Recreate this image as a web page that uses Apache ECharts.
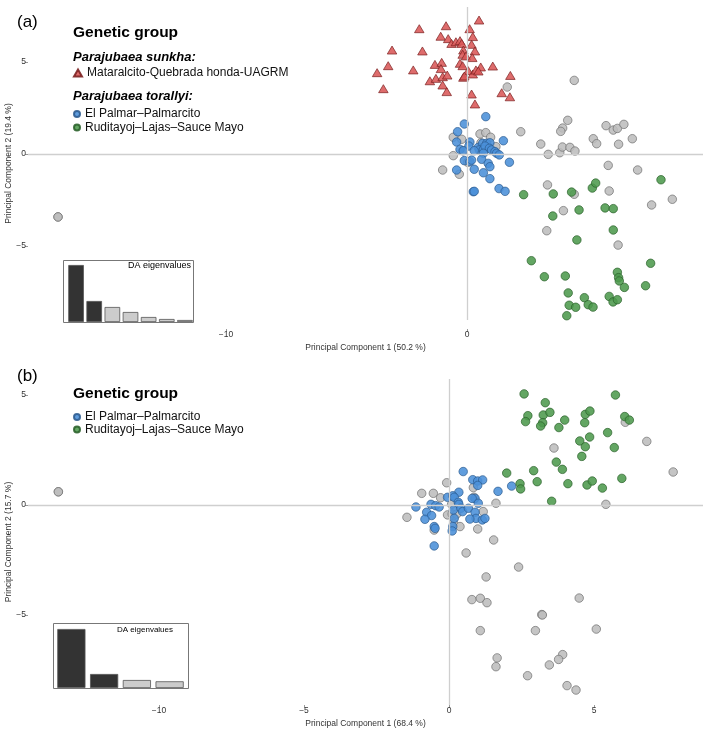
<!DOCTYPE html>
<html>
<head>
<meta charset="utf-8">
<script src="https://cdn.jsdelivr.net/npm/echarts@6/dist/echarts.min.js"></script>
<style>
  html, body { margin: 0; padding: 0; background: #fff; }
  #chart { width: 709px; height: 737px; }
</style>
</head>
<body>
<div id="chart"></div>
<script>
// panel (a): DAPC with both species
var sunkhaA = [[0.50,7.28],[-1.98,6.81],[-0.87,6.97],[0.11,6.81],[-1.09,6.40],[-0.78,6.27],[0.24,6.38],[-0.64,6.01],[-0.46,6.10],[-0.29,6.16],[-0.22,6.01],[0.19,5.96],[-3.11,5.65],[-1.85,5.60],[-0.15,5.65],[0.33,5.60],[-0.18,5.42],[-0.04,5.33],[0.22,5.24],[-3.27,4.80],[-3.73,4.42],[-2.23,4.57],[-1.33,4.87],[-1.05,4.98],[-1.08,4.64],[-0.29,4.93],[-0.18,4.80],[0.57,4.73],[1.07,4.78],[-1.54,3.98],[-1.29,4.11],[-1.01,4.20],[-0.82,4.29],[0.05,4.53],[0.24,4.35],[0.37,4.57],[0.47,4.51],[-0.15,4.17],[-0.11,4.24],[1.80,4.27],[-3.47,3.55],[-1.01,3.75],[-0.84,3.39],[1.44,3.33],[1.78,3.11],[0.19,3.26],[0.33,2.72]];
var palmarA = [[0.78,2.03],[-0.11,1.63],[-0.39,1.21],[-0.43,0.65],[0.12,0.65],[1.51,0.72],[0.08,0.43],[0.47,0.36],[0.65,0.58],[0.82,0.58],[0.95,0.61],[0.51,0.22],[0.68,0.25],[0.75,0.43],[0.93,0.31],[1.02,0.22],[1.16,0.13],[1.23,0.04],[1.34,-0.05],[-0.29,0.25],[-0.15,0.18],[0.30,0.18],[0.68,0.04],[-0.11,-0.36],[0.12,-0.42],[0.19,-0.33],[0.61,-0.29],[0.88,-0.51],[0.95,-0.69],[1.76,-0.45],[0.30,-0.83],[-0.43,-0.87],[0.68,-1.02],[0.95,-1.34],[0.26,-2.05],[0.30,-2.03],[1.33,-1.88],[1.58,-2.03]];
var ruditayojA = [[2.35,-2.21],[3.58,-2.17],[4.34,-2.07],[5.20,-1.85],[5.34,-1.58],[8.05,-1.40],[4.65,-3.04],[3.56,-3.37],[5.73,-2.93],[6.07,-2.97],[6.07,-4.13],[4.56,-4.67],[2.67,-5.80],[3.21,-6.67],[4.08,-6.63],[7.62,-5.94],[6.24,-6.43],[6.29,-6.72],[6.32,-6.90],[6.53,-7.25],[7.41,-7.16],[4.20,-7.55],[4.87,-7.81],[5.90,-7.74],[6.06,-8.04],[6.24,-7.92],[4.24,-8.22],[4.51,-8.33],[5.03,-8.19],[5.23,-8.32],[4.14,-8.79]];
var otherA = [[0.54,1.09],[0.78,1.16],[0.98,0.91],[-0.57,0.91],[-0.22,0.80],[0.58,0.61],[1.20,0.40],[-0.57,-0.09],[-0.18,0.18],[0.03,-0.45],[-1.01,-0.87],[-0.32,-1.10],[2.23,1.21],[3.06,0.54],[3.37,-0.02],[3.34,-1.68],[4.45,4.00],[1.67,3.64],[4.18,1.83],[3.97,1.41],[3.89,1.23],[3.85,0.07],[3.96,0.38],[4.27,0.36],[4.48,0.16],[5.77,1.54],[6.07,1.30],[6.24,1.39],[6.51,1.61],[5.24,0.83],[5.38,0.56],[6.29,0.53],[6.86,0.83],[5.86,-0.62],[7.08,-0.87],[4.45,-2.19],[5.90,-2.01],[4.00,-3.08],[3.31,-4.17],[6.27,-4.95],[7.66,-2.77],[8.52,-2.46],[-16.97,-3.42],[-16.97,-3.42]];

// panel (b): P. torallyi only
var palmarB = [[0.49,1.52],[0.82,1.15],[0.99,1.09],[1.16,1.14],[0.99,0.89],[0.34,0.58],[1.69,0.62],[2.16,0.86],[-0.05,0.35],[0.13,0.42],[0.18,0.35],[0.32,0.12],[0.34,0.03],[0.90,0.30],[0.80,0.30],[-1.14,-0.09],[-0.62,0.03],[-0.46,-0.03],[-0.34,-0.09],[-0.77,-0.33],[-0.60,-0.48],[-0.83,-0.65],[0.15,-0.23],[0.41,-0.15],[0.47,-0.30],[0.67,-0.15],[1.01,0.08],[0.90,-0.33],[0.93,-0.61],[1.15,-0.68],[1.24,-0.61],[0.72,-0.64],[0.18,-0.61],[-0.51,-0.98],[-0.48,-1.06],[0.13,-0.98],[0.11,-1.18],[-0.51,-1.86]];
var ruditayojB = [[2.59,5.05],[5.74,5.00],[3.32,4.65],[2.72,4.06],[2.64,3.79],[3.25,4.09],[3.48,4.21],[3.23,3.74],[3.16,3.59],[3.99,3.86],[3.79,3.52],[4.70,4.12],[4.86,4.27],[4.68,3.74],[6.06,4.02],[6.22,3.86],[5.47,3.29],[4.51,2.91],[4.85,3.09],[4.70,2.65],[5.70,2.61],[4.58,2.21],[3.70,1.95],[3.91,1.62],[2.92,1.56],[1.99,1.45],[3.04,1.06],[2.45,0.97],[2.47,0.73],[4.10,0.97],[4.76,0.91],[4.94,1.09],[5.29,0.77],[5.96,1.21],[3.54,0.17]];
var otherB = [[-0.08,1.01],[-0.94,0.53],[-0.54,0.53],[-0.29,0.33],[0.84,0.79],[0.86,0.35],[0.09,0.03],[1.62,0.08],[-1.45,-0.56],[-0.05,-0.45],[0.11,-0.41],[0.26,-0.42],[1.18,-0.30],[0.16,-0.83],[0.38,-0.98],[0.99,-1.09],[-0.51,-1.14],[1.54,-1.59],[0.59,-2.18],[2.40,-2.82],[1.28,-3.27],[0.79,-4.30],[1.08,-4.24],[1.31,-4.44],[4.49,-4.23],[3.20,-4.98],[3.22,-5.00],[2.98,-5.71],[1.08,-5.71],[5.08,-5.64],[1.66,-6.95],[1.62,-7.35],[3.92,-6.80],[3.78,-7.02],[3.46,-7.27],[2.71,-7.76],[4.07,-8.21],[4.38,-8.41],[6.08,3.76],[6.82,2.89],[3.62,2.59],[7.73,1.50],[5.41,0.03],[-13.47,0.60],[-13.47,0.60]];

// DA eigenvalue insets (bar heights as read)
var daEigA = [57, 21, 15, 10, 5, 3, 2];
var daEigB = [59, 14, 8, 6.7];
var retainedA = 2, retainedB = 2;

var xTicksA = [-10, 0];
var yTicksA = [-5, 0, 5];
var xTicksB = [-10, -5, 0, 5];
var yTicksB = [-5, 0, 5];

var nameSunkha = 'Mataralcito-Quebrada honda-UAGRM';
var namePalmar = 'El Palmar\u2013Palmarcito';
var nameRudi = 'Ruditayoj\u2013Lajas\u2013Sauce Mayo';

var FONT = "'Liberation Sans', Arial, Helvetica, sans-serif";
var chart = echarts.init(document.getElementById('chart'), null, { renderer: 'canvas' });

function minus(v) { return String(v).replace('-', '\u2212'); }

function mainX(grid, min, max, ticks, title, offset, gap) {
  return {
    type: 'value', gridIndex: grid, min: min, max: max, offset: offset,
    name: title, nameLocation: 'middle', nameGap: gap, nameMoveOverlap: false,
    nameTextStyle: { fontFamily: FONT, fontSize: 8.5, color: '#333' },
    axisLine: { show: false, onZero: false },
    axisTick: { show: true, length: 3, inside: false, customValues: ticks, lineStyle: { color: '#999' } },
    axisLabel: { customValues: ticks, margin: 1, fontFamily: FONT, fontSize: 8.5, color: '#333', formatter: minus },
    splitLine: { show: false }
  };
}
function mainY(grid, min, max, ticks, title) {
  return {
    type: 'value', gridIndex: grid, min: min, max: max,
    name: title, nameLocation: 'middle', nameGap: 15, nameMoveOverlap: false,
    nameTextStyle: { fontFamily: FONT, fontSize: 8.5, color: '#333' },
    axisLine: { show: false, onZero: false },
    axisTick: { show: true, length: 3, customValues: ticks, lineStyle: { color: '#999' } },
    axisLabel: { customValues: ticks, margin: 2, fontFamily: FONT, fontSize: 8.5, color: '#333', formatter: minus },
    splitLine: { show: false }
  };
}

function pts(name, data, grid, fill, edge, symbol, size, z) {
  return {
    type: 'scatter', name: name, xAxisIndex: grid, yAxisIndex: grid, data: data,
    symbol: symbol, symbolSize: size, z: z, silent: true,
    itemStyle: { color: fill, borderColor: edge, borderWidth: 0.8, opacity: 0.88 }
  };
}
function zeroLines() {
  return {
    silent: true, symbol: ['none', 'none'], label: { show: false }, animation: false,
    lineStyle: { color: '#cfcfcf', width: 1.3, type: 'solid' },
    data: [{ xAxis: 0 }, { yAxis: 0 }]
  };
}
function eigBars(data, grid, retained) {
  return {
    type: 'bar', xAxisIndex: grid, yAxisIndex: grid, silent: true, barCategoryGap: '14%',
    data: data.map(function (v, i) {
      return { value: v, itemStyle: { color: i < retained ? '#333333' : '#cccccc', borderColor: '#555', borderWidth: 0.8 } };
    })
  };
}

var GREY = '#bdbdbd', GREY_E = '#6e6e6e';
var BLUE = '#4a8fd8', BLUE_E = '#2b5a8e';
var GREEN = '#4d9a4d', GREEN_E = '#2a602a';
var RED = '#d95858', RED_E = '#7a1f1f';

var greyA = pts('unassigned A', otherA, 0, GREY, GREY_E, 'circle', 8.5, 2);
greyA.markLine = zeroLines();
var greyB = pts('unassigned B', otherB, 2, GREY, GREY_E, 'circle', 8.5, 2);
greyB.markLine = zeroLines();

var titleStyle = function (size, weight, style) {
  return { fontFamily: FONT, fontSize: size, fontWeight: weight, fontStyle: style || 'normal', color: '#000' };
};

var option = {
  animation: false,
  backgroundColor: '#fff',
  grid: [
    { left: 28, top: 7, width: 675, height: 313, outerBoundsMode: 'none' },
    { left: 67, top: 260, width: 127, height: 62, outerBoundsMode: 'none' },
    { left: 28, top: 379, width: 675, height: 326, outerBoundsMode: 'none' },
    { left: 55, top: 623, width: 131, height: 65, outerBoundsMode: 'none' }
  ],
  xAxis: [
    mainX(0, -18.216, 9.793, xTicksA, 'Principal Component 1 (50.2 %)', 9, 14),
    { type: 'category', gridIndex: 1, data: daEigA.map(function (v, i) { return i; }), show: false },
    mainX(2, -14.517, 8.759, xTicksB, 'Principal Component 1 (68.4 %)', 0, 14),
    { type: 'category', gridIndex: 3, data: daEigB.map(function (v, i) { return i; }), show: false }
  ],
  yAxis: [
    mainY(0, -9.022, 7.989, yTicksA, 'Principal Component 2 (19.4 %)'),
    { type: 'value', gridIndex: 1, min: 0, max: 62, show: false },
    mainY(2, -9.091, 5.727, yTicksB, 'Principal Component 2 (15.7 %)'),
    { type: 'value', gridIndex: 3, min: 0, max: 65, show: false }
  ],
  graphic: [
    { type: 'rect', z: 3, shape: { x: 29, y: 8, width: 314, height: 152 }, style: { fill: '#fff' } },
    { type: 'rect', z: 3, shape: { x: 63.5, y: 260.5, width: 130, height: 62 }, style: { fill: 'none', stroke: '#777', lineWidth: 1 } },
    { type: 'rect', z: 3, shape: { x: 53.5, y: 623.5, width: 135, height: 65 }, style: { fill: 'none', stroke: '#777', lineWidth: 1 } }
  ],
  title: [
    { text: '(a)', left: 17, top: 14, padding: 0, z: 10, textStyle: titleStyle(17, 'normal') },
    { text: '(b)', left: 17, top: 368, padding: 0, z: 10, textStyle: titleStyle(17, 'normal') },
    { text: 'Genetic group', left: 73, top: 25, padding: 0, z: 10, textStyle: titleStyle(15.5, 'bold') },
    { text: 'Parajubaea sunkha:', left: 73, top: 51, padding: 0, z: 10, textStyle: titleStyle(13, 'bold', 'italic') },
    { text: 'Parajubaea torallyi:', left: 73, top: 90, padding: 0, z: 10, textStyle: titleStyle(13, 'bold', 'italic') },
    { text: 'Genetic group', left: 73, top: 386, padding: 0, z: 10, textStyle: titleStyle(15.5, 'bold') },
    { text: 'DA eigenvalues', right: 518, top: 261, padding: 0, z: 10, textStyle: titleStyle(9, 'normal') },
    { text: 'DA eigenvalues', right: 536, top: 626, padding: 0, z: 10, textStyle: titleStyle(8, 'normal') }
  ],
  legend: [
    { data: [{ name: nameSunkha, icon: 'triangle' }], left: 73, top: 67, padding: 0, z: 10,
      itemWidth: 8, itemHeight: 7, selectedMode: false, textStyle: { fontFamily: FONT, fontSize: 12, color: '#111' } },
    { data: [namePalmar, nameRudi], icon: 'circle', orient: 'vertical', left: 73, top: 108, padding: 0, z: 10,
      itemWidth: 6, itemHeight: 6, itemGap: 1.5, selectedMode: false, textStyle: { fontFamily: FONT, fontSize: 12, color: '#111' } },
    { data: [namePalmar, nameRudi], icon: 'circle', orient: 'vertical', left: 73, top: 411, padding: 0, z: 10,
      itemWidth: 6, itemHeight: 6, itemGap: 0.5, selectedMode: false, textStyle: { fontFamily: FONT, fontSize: 12, color: '#111' } }
  ],
  series: [
    greyA,
    pts(namePalmar, palmarA, 0, BLUE, BLUE_E, 'circle', 8.5, 2),
    pts(nameRudi, ruditayojA, 0, GREEN, GREEN_E, 'circle', 8.5, 2),
    pts(nameSunkha, sunkhaA, 0, RED, RED_E, 'triangle', [9.5, 8], 2),
    eigBars(daEigA, 1, retainedA),
    greyB,
    pts(namePalmar, palmarB, 2, BLUE, BLUE_E, 'circle', 8.5, 2),
    pts(nameRudi, ruditayojB, 2, GREEN, GREEN_E, 'circle', 8.5, 2),
    eigBars(daEigB, 3, retainedB)
  ]
};

chart.setOption(option);
window.addEventListener('resize', chart.resize);
</script>
</body>
</html>
